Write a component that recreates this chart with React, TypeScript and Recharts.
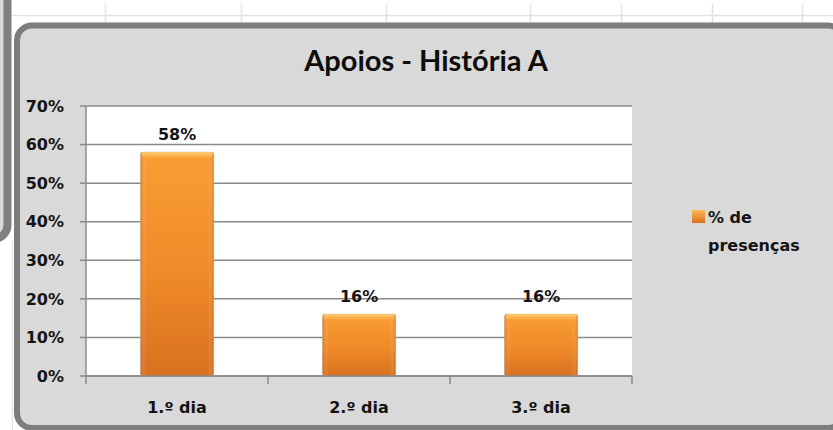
import React from 'react'
import {
  Bar,
  BarChart,
  CartesianGrid,
  LabelList,
  Legend,
  XAxis,
  YAxis,
} from 'recharts'

const days = ['1.º dia', '2.º dia', '3.º dia']
const presencas = [0.58, 0.16, 0.16]
const yTicks = [0, 0.1, 0.2, 0.3, 0.4, 0.5, 0.6, 0.7]
const seriesName = '% de presenças'
const title = 'Apoios - História A'

const data = days.map((day, i) => ({ day, value: presencas[i] }))

const W = 833
const H = 430
const MARGIN = { top: 106, right: 201, bottom: 0, left: 0 }
const Y_AXIS_W = 86
const X_AXIS_H = 54
const BAND = (W - MARGIN.right - Y_AXIS_W) / days.length

const LINE = '#8a8a8a'
const TEXT = '#141414'
const FONT = '"DejaVu Sans", Verdana, sans-serif'
const pct = (v: number) => `${Math.round(v * 100)}%`

const DayTick = (props: any) => {
  const { x, y, payload, index } = props
  const half = BAND / 2
  return (
    <g>
      <line x1={x - half} x2={x - half} y1={y} y2={y + 8} stroke={LINE} strokeWidth={1.5} />
      {index === days.length - 1 && (
        <line x1={x + half} x2={x + half} y1={y} y2={y + 8} stroke={LINE} strokeWidth={1.5} />
      )}
      <text
        x={x}
        y={y + 37}
        textAnchor="middle"
        fill={TEXT}
        style={{ fontFamily: FONT, fontWeight: 700, fontSize: 16 }}
      >
        {payload.value}
      </text>
    </g>
  )
}

const GlossyBar = (props: any) => {
  const { x, y, width, height } = props
  if (!height || height <= 0) return null
  return (
    <g>
      <rect x={x} y={y} width={width} height={height} rx={2} fill="url(#barV)" stroke="#c9a080" strokeWidth={0.6} />
      <rect x={x} y={y} width={width} height={height} rx={2} fill="url(#barH)" />
      <rect x={x + 1} y={y} width={width - 2} height={Math.min(6, height)} rx={2} fill="url(#barTop)" />
    </g>
  )
}

const LegendBox = (props: any) => {
  const item = props.payload?.[0]
  return (
    <div style={{ display: 'flex', alignItems: 'flex-start', fontFamily: FONT, fontWeight: 700, fontSize: 16, color: TEXT }}>
      <svg width={13} height={13} style={{ marginTop: 6.5, marginRight: 3, flex: 'none' }}>
        <defs>
          <linearGradient id="legV" x1="0" y1="0" x2="0" y2="1">
            <stop offset="0%" stopColor="#fcb850" />
            <stop offset="100%" stopColor="#d8721f" />
          </linearGradient>
        </defs>
        <rect x={0} y={0} width={13} height={13} fill="url(#legV)" />
      </svg>
      <div style={{ width: 100, lineHeight: '28px' }}>{item ? item.value : seriesName}</div>
    </div>
  )
}

const Background = () => (
  <svg width={W} height={H} style={{ position: 'absolute', left: 0, top: 0 }}>
    <rect x={0} y={0} width={W} height={H} fill="#ffffff" />
    <line x1={12} x2={W} y1={15.5} y2={15.5} stroke="#e2e2e2" strokeWidth={1.5} />
    {[105, 241, 386, 530, 621, 712, 802].map(gx => (
      <line key={gx} x1={gx + 0.5} x2={gx + 0.5} y1={4} y2={24} stroke="#e2e2e2" strokeWidth={1.5} />
    ))}
    <rect x={-30} y={-20} width={37.5} height={259} rx={14} fill="#d9d9d9" stroke="#808080" strokeWidth={8} />
    <line x1={12.5} x2={12.5} y1={240} y2={H} stroke="#e2e2e2" strokeWidth={1} />
    <rect x={17} y={25.5} width={826} height={402.5} rx={15} fill="#d9d9d9" stroke="#7d7d7d" strokeWidth={6} />
    <text
      x={426}
      y={71}
      textAnchor="middle"
      fill="#0d0d0d"
      style={{ fontFamily: 'Lato, "Open Sans", sans-serif', fontWeight: 700, fontSize: 29 }}
    >
      {title}
    </text>
  </svg>
)

export default function App() {
  return (
    <div style={{ position: 'absolute', left: 0, top: 0, width: W, height: H, overflow: 'hidden' }}>
      <Background />
      <div style={{ position: 'absolute', left: 0, top: 0 }}>
        <BarChart width={W} height={H} data={data} margin={MARGIN} barCategoryGap="30%">
          <defs>
            <linearGradient id="barV" x1="0" y1="0" x2="0" y2="1">
              <stop offset="0%" stopColor="#fa9d33" />
              <stop offset="55%" stopColor="#ef8a28" />
              <stop offset="100%" stopColor="#d8711f" />
            </linearGradient>
            <linearGradient id="barH" x1="0" y1="0" x2="1" y2="0">
              <stop offset="0%" stopColor="#b85a10" stopOpacity={0.35} />
              <stop offset="8%" stopColor="#ffffff" stopOpacity={0} />
              <stop offset="92%" stopColor="#ffffff" stopOpacity={0} />
              <stop offset="100%" stopColor="#b85a10" stopOpacity={0.35} />
            </linearGradient>
            <linearGradient id="barTop" x1="0" y1="0" x2="0" y2="1">
              <stop offset="0%" stopColor="#ffd070" stopOpacity={0.95} />
              <stop offset="100%" stopColor="#ffd070" stopOpacity={0} />
            </linearGradient>
          </defs>
          <CartesianGrid vertical={false} fill="#ffffff" stroke={LINE} strokeWidth={1.5} horizontalValues={yTicks} />
          <XAxis
            dataKey="day"
            height={X_AXIS_H}
            axisLine={{ stroke: LINE, strokeWidth: 1.5 }}
            tickLine={false}
            tickSize={0}
            tickMargin={0}
            tick={<DayTick />}
            interval={0}
          />
          <YAxis
            width={Y_AXIS_W}
            domain={[0, 0.7]}
            ticks={yTicks}
            tickFormatter={pct}
            axisLine={{ stroke: LINE, strokeWidth: 1.5 }}
            tickLine={{ stroke: LINE, strokeWidth: 1.5 }}
            tickSize={6}
            tickMargin={16}
            tick={{ fill: TEXT, fontFamily: FONT, fontWeight: 700, fontSize: 16 }}
          />
          <Legend
            layout="horizontal"
            verticalAlign="middle"
            align="center"
            content={<LegendBox />}
            wrapperStyle={{ position: 'absolute', left: 692, top: 203.5, width: 130 }}
          />
          <Bar dataKey="value" name={seriesName} shape={<GlossyBar />} isAnimationActive={false}>
            <LabelList
              dataKey="value"
              position="top"
              offset={12}
              formatter={(v: any) => pct(Number(v))}
              style={{ fill: TEXT, fontFamily: FONT, fontWeight: 700, fontSize: 16 }}
            />
          </Bar>
        </BarChart>
      </div>
    </div>
  )
}
